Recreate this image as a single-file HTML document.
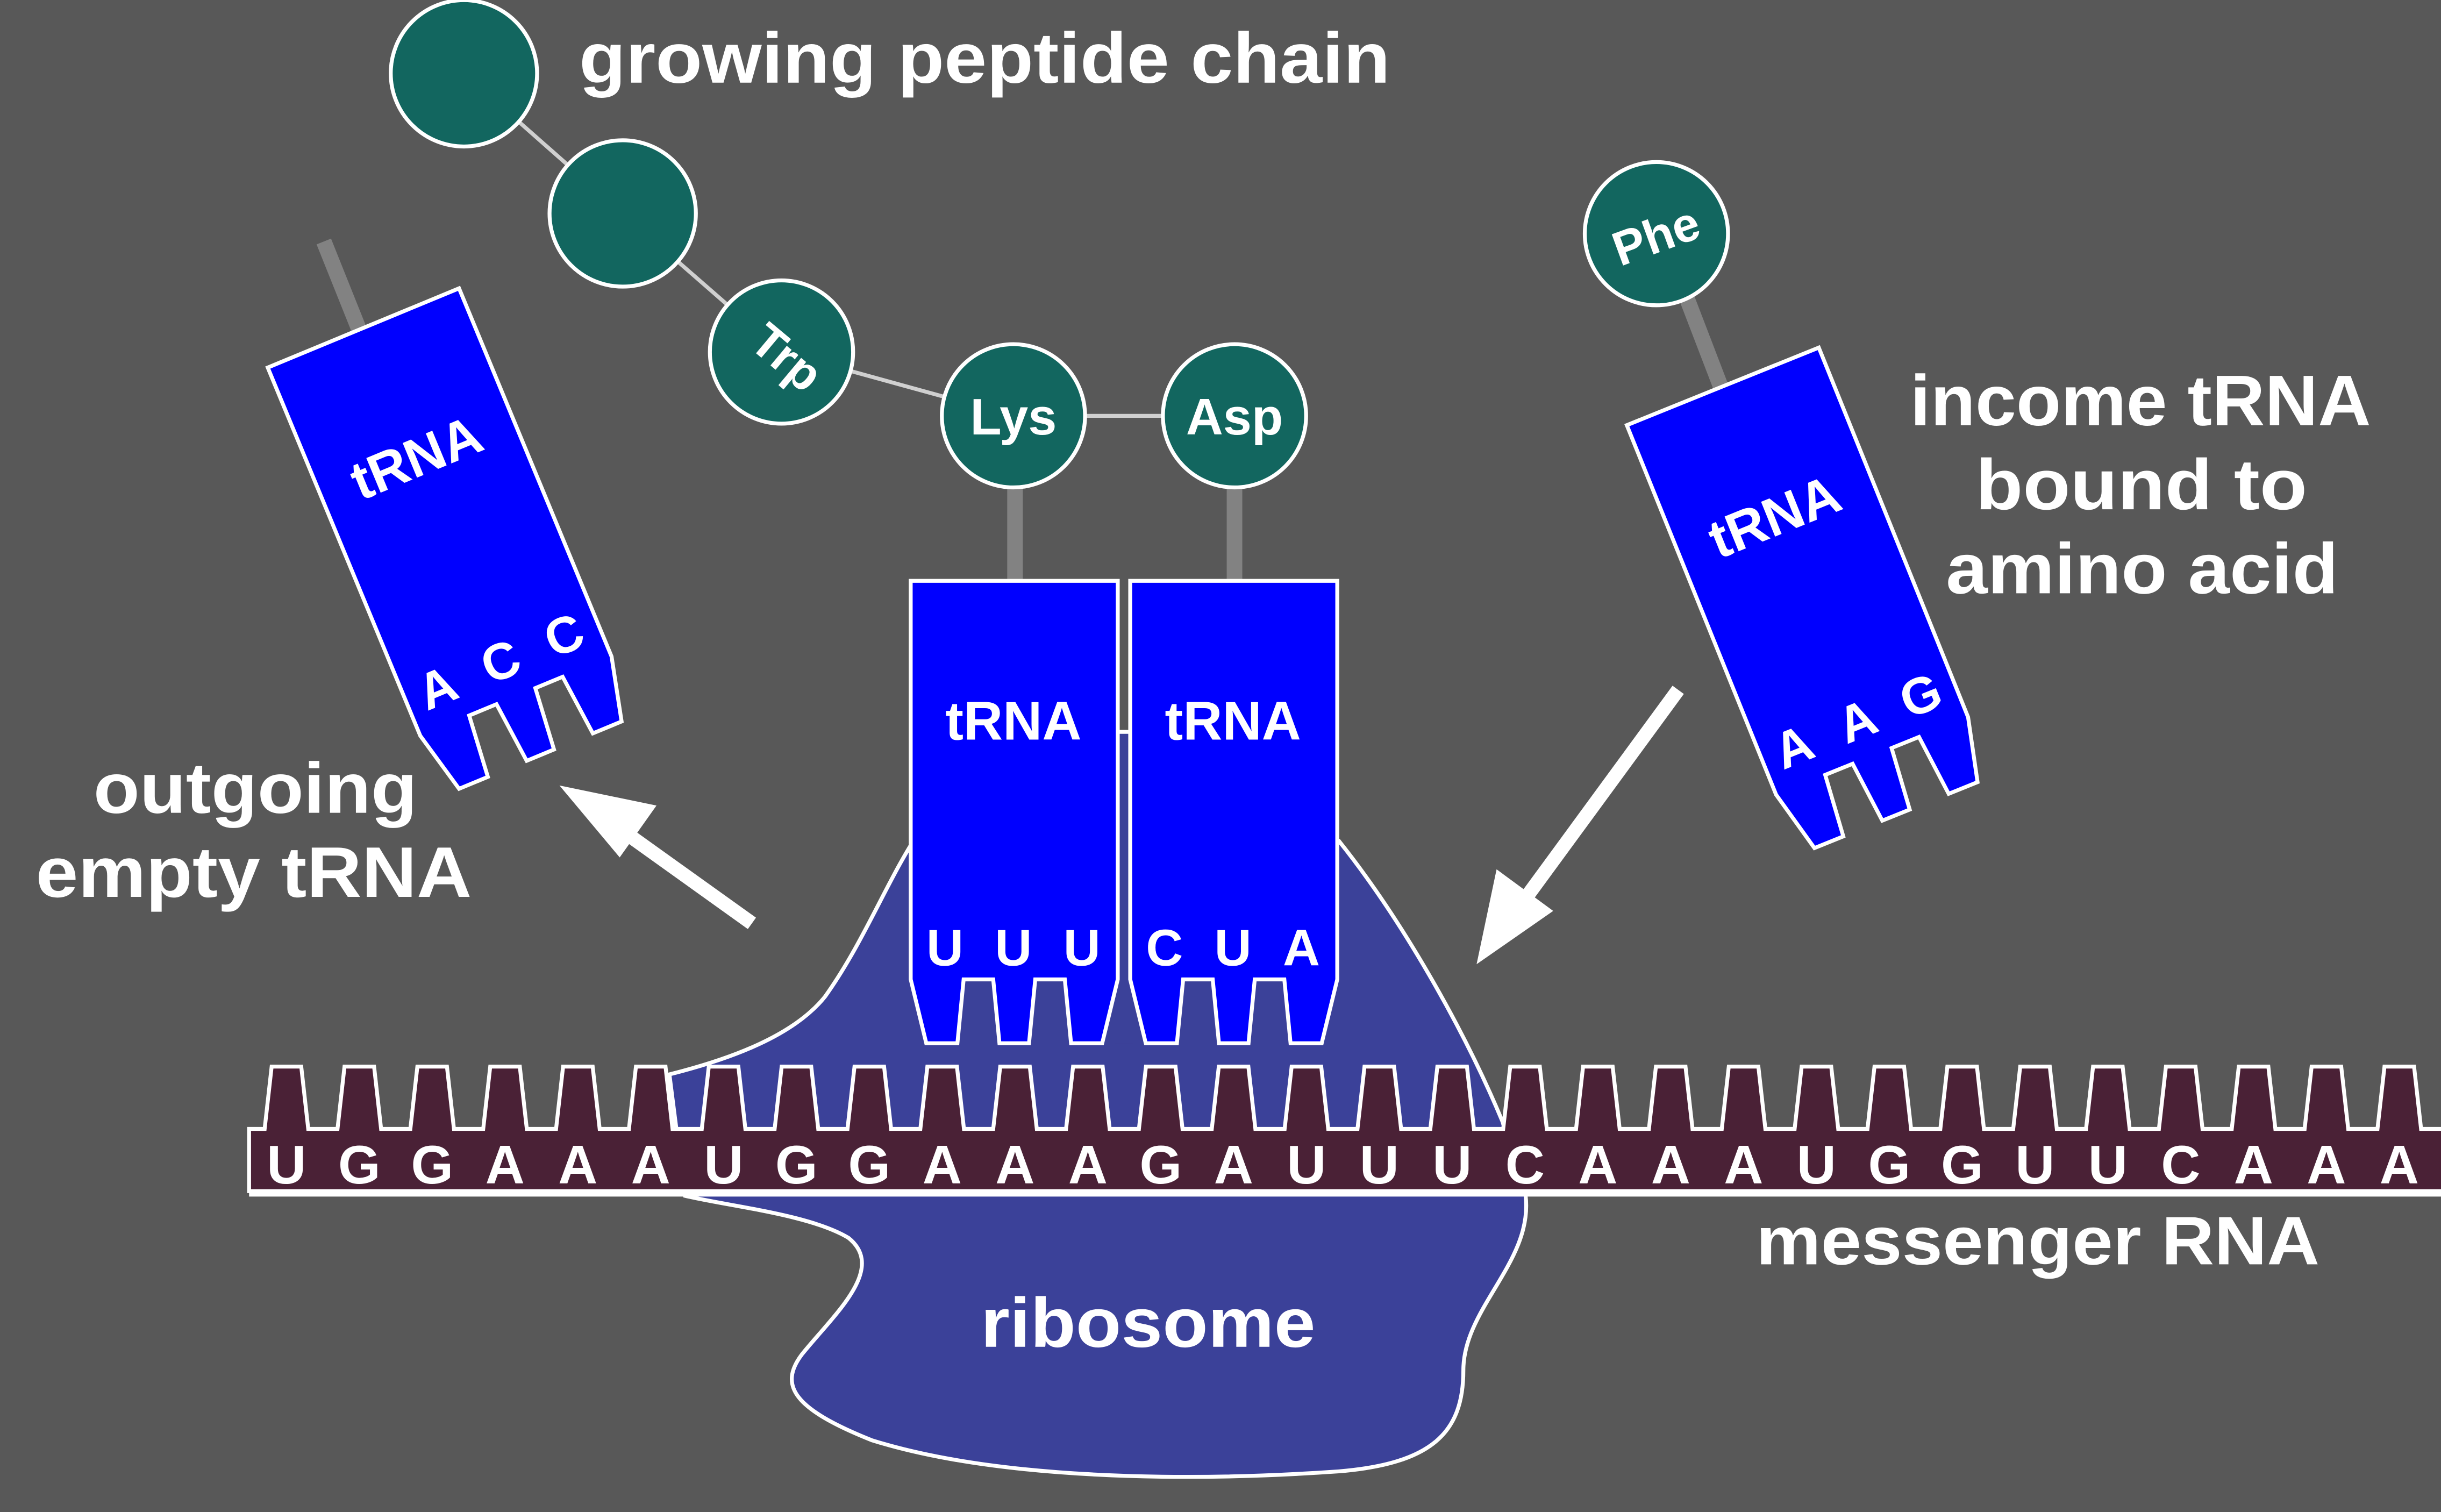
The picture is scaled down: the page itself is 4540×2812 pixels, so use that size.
<!DOCTYPE html>
<html><head><meta charset="utf-8"><style>
html,body{margin:0;padding:0;background:#585858;}
svg{display:block;}
text{font-family:"Liberation Sans",sans-serif;font-weight:bold;fill:#fff;}
</style></head><body>
<svg id="s" width="4540" height="2812" viewBox="0 0 1568 971" xmlns="http://www.w3.org/2000/svg">
<defs>
<path id="trna" d="M0,0 H133 V256 L123,297 H103 L99,256 H80 L76,297 H57 L53,256 H34 L30,297 H10 L0,256 Z" fill="#0000ff" stroke="#fff" stroke-width="2.5"/>
</defs>
<rect width="1568" height="971" fill="#585858"/>
<path d="M430,690 C470,680 510,665 530,640 C555,605 570,565 590,535 L860,540 C900,590 940,660 965,720 L980,768 C985,810 940,840 940,880 C940,920 920,940 860,945 C760,952 640,950 560,925 C510,905 500,890 515,870 C535,845 570,815 545,795 C520,780 470,775 440,768 Z" fill="#3b4199" stroke="#fff" stroke-width="2.5"/>
<g stroke="#d0d0d0" stroke-width="2.5">
<line x1="298" y1="47" x2="400" y2="137"/>
<line x1="400" y1="137" x2="502" y2="226"/>
<line x1="502" y1="226" x2="651" y2="267"/>
<line x1="651" y1="267" x2="793" y2="267"/>
</g>
<g stroke="#828282" stroke-width="10">
<line x1="652" y1="305" x2="652" y2="375"/>
<line x1="793" y1="305" x2="793" y2="375"/>
<line x1="208" y1="155" x2="232" y2="215"/>
<line x1="1083" y1="190" x2="1106" y2="250"/>
</g>
<g fill="#12665f" stroke="#fff" stroke-width="2.5">
<circle cx="298" cy="47" r="47"/>
<circle cx="400" cy="137" r="47"/>
<circle cx="502" cy="226" r="46"/>
<circle cx="651" cy="267" r="46"/>
<circle cx="793" cy="267" r="46"/>
<circle cx="1064" cy="150" r="46"/>
</g>
<text x="651" y="279" font-size="33" text-anchor="middle">Lys</text>
<text x="793" y="279" font-size="33" text-anchor="middle">Asp</text>
<text transform="translate(505,230) rotate(40)" font-size="31" text-anchor="middle" y="10">Trp</text>
<text transform="translate(1064,152) rotate(-20)" font-size="31" text-anchor="middle" y="10">Phe</text>
<rect x="716" y="470" width="12" height="200" fill="#3b4199"/>
<line x1="716" y1="470" x2="728" y2="470" stroke="#fff" stroke-width="2.5"/>
<g transform="translate(585,373)">
<use href="#trna"/>
<text x="66" y="102" font-size="35" text-anchor="middle">tRNA</text>
<text x="22" y="247" font-size="33" text-anchor="middle">U</text>
<text x="66" y="247" font-size="33" text-anchor="middle">U</text>
<text x="110" y="247" font-size="33" text-anchor="middle">U</text>
</g>
<g transform="translate(726,373)">
<use href="#trna"/>
<text x="66" y="102" font-size="35" text-anchor="middle">tRNA</text>
<text x="22" y="247" font-size="33" text-anchor="middle">C</text>
<text x="66" y="247" font-size="33" text-anchor="middle">U</text>
<text x="110" y="247" font-size="33" text-anchor="middle">A</text>
</g>
<g transform="translate(172,236) rotate(-22.5)">
<use href="#trna"/>
<text x="66" y="102" font-size="35" text-anchor="middle">tRNA</text>
<text x="22" y="243" font-size="33" text-anchor="middle">A</text>
<text x="66" y="243" font-size="33" text-anchor="middle">C</text>
<text x="110" y="243" font-size="33" text-anchor="middle">C</text>
</g>
<g transform="translate(1045,273) rotate(-22)">
<use href="#trna"/>
<text x="66" y="102" font-size="35" text-anchor="middle">tRNA</text>
<text x="22" y="243" font-size="33" text-anchor="middle">A</text>
<text x="66" y="243" font-size="33" text-anchor="middle">A</text>
<text x="110" y="243" font-size="33" text-anchor="middle">G</text>
</g>
<path id="mrna" d="" fill="#4a2136" stroke="#fff" stroke-width="2.5"/>
<g id="letters"></g>
<line x1="160" y1="767" x2="1568" y2="767" stroke="#fff" stroke-width="3"/>
<g fill="#fff" stroke="#fff">
<line x1="483" y1="593" x2="395" y2="530" stroke-width="9"/>
<polygon points="362,506 420,518 398,549" stroke-width="2"/>
<line x1="1078" y1="443" x2="974" y2="585" stroke-width="9"/>
<polygon points="950,617 962,560 996,585" stroke-width="2"/>
</g>
<text x="372" y="53" font-size="46" textLength="521" lengthAdjust="spacingAndGlyphs">growing peptide chain</text>
<text x="1227" y="273" font-size="46" textLength="296" lengthAdjust="spacingAndGlyphs">income tRNA</text>
<text x="1269" y="327" font-size="46" textLength="213" lengthAdjust="spacingAndGlyphs">bound to</text>
<text x="1250" y="381" font-size="46" textLength="252" lengthAdjust="spacingAndGlyphs">amino acid</text>
<text x="60" y="522" font-size="46" textLength="208" lengthAdjust="spacingAndGlyphs">outgoing</text>
<text x="23" y="576" font-size="46" textLength="280" lengthAdjust="spacingAndGlyphs">empty tRNA</text>
<text x="1128" y="812" font-size="44" textLength="362" lengthAdjust="spacingAndGlyphs">messenger RNA</text>
<text x="630" y="865" font-size="45" textLength="215" lengthAdjust="spacingAndGlyphs">ribosome</text>
</svg>
<script>
(function(){
var seq="UGGAAAUGGAAAGAUUUCAAAUGGUUCAAA";
var d="M160,725 L170,725 ";
var p=46.8;
for(var i=0;i<30;i++){var c=184+p*i;
d+="L"+(c-14)+",725 L"+(c-9.5)+",685 L"+(c+9.5)+",685 L"+(c+14)+",725 ";}
d+="L1572,725 L1572,765 L160,765 Z";
document.getElementById("mrna").setAttribute("d",d);
var g=document.getElementById("letters"),ns="http://www.w3.org/2000/svg";
for(var i=0;i<30;i++){var t=document.createElementNS(ns,"text");
t.setAttribute("x",184+p*i);t.setAttribute("y",760);t.setAttribute("font-size","35");
t.setAttribute("text-anchor","middle");t.textContent=seq[i];g.appendChild(t);}
})();
</script>
</body></html>
